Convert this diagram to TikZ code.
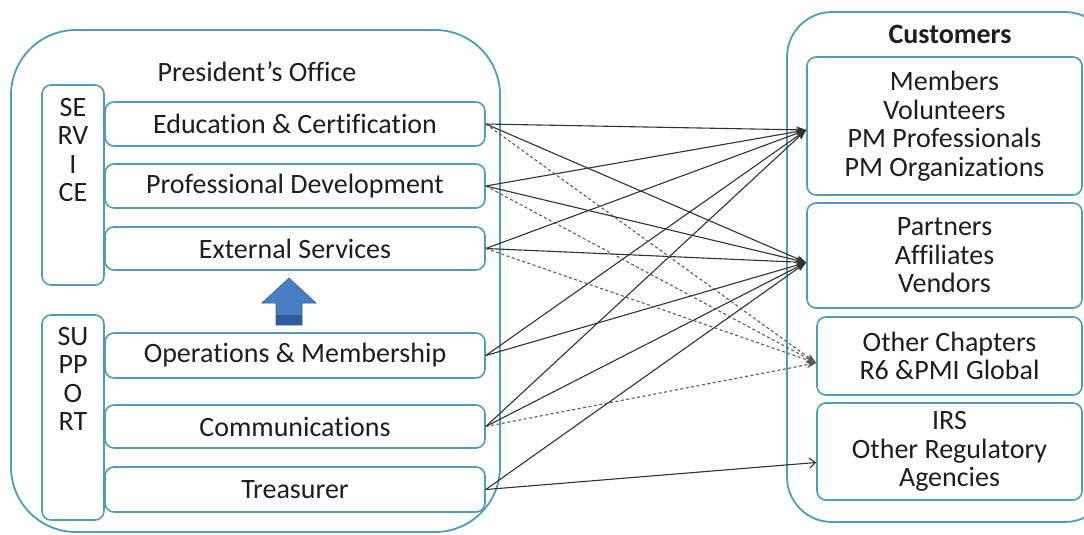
\documentclass[tikz,border=0pt]{standalone}
\usepackage{fontspec}
\setmainfont{Carlito}[Ligatures=NoCommon]
\usetikzlibrary{arrows.meta,calc}
\definecolor{bord}{RGB}{78,158,186}
\definecolor{txt}{RGB}{30,30,30}
\definecolor{lin}{RGB}{50,50,50}
\definecolor{arrblue}{RGB}{74,126,196}
\definecolor{arrdark}{RGB}{46,92,156}
\tikzset{
  big/.style={draw=bord, line width=1.8pt},
  inner/.style={draw=bord, line width=1.6pt, rounded corners=9pt, fill=white, text=txt,
    font=\fontsize{28}{28.5}\selectfont, inner sep=0pt, align=center},
  lbl/.style={text=txt, font=\fontsize{28}{28.5}\selectfont, align=center, inner sep=0pt},
  conn/.style={draw=lin, line width=1.1pt, -{Stealth[length=10pt,width=7pt]}},
  dconn/.style={draw=lin!80, line width=1.1pt, dash pattern=on 3pt off 2.5pt, -{Stealth[length=10pt,width=7pt]}},
  oconn/.style={draw=lin, line width=1.1pt, -{Straight Barb[length=6pt,width=10pt]}},
}
\begin{document}
\begin{tikzpicture}[x=1pt,y=-1pt]
\useasboundingbox (0,0) rectangle (1084,535);
\fill[white] (0,0) rectangle (1084,535);
% left panel
\draw[big, rounded corners=65pt] (11,30) rectangle (500,532);
\node[lbl] (pres) at (257,72) {President’s Office};
\node[inner, minimum width=62pt, minimum height=200pt] (serv) at (73,185) {};
\node[lbl, anchor=north] (servt) at (73,98) {SE\\RV\\I\\CE};
\node[inner, minimum width=62pt, minimum height=205pt] (supp) at (73,417.5) {};
\node[lbl, anchor=north] (suppt) at (73,327) {SU\\PP\\O\\RT};
\node[inner, minimum width=380pt, minimum height=44pt] (edu) at (295,124) {Education \& Certification};
\node[inner, minimum width=380pt, minimum height=44pt] (prof) at (295,186) {Professional Development};
\node[inner, minimum width=380pt, minimum height=43pt] (ext) at (295,248.5) {External Services};
\node[inner, minimum width=380pt, minimum height=45pt] (ops) at (295,355.5) {Operations \& Membership};
\node[inner, minimum width=380pt, minimum height=43pt] (comm) at (295,426.5) {Communications};
\node[inner, minimum width=380pt, minimum height=45pt] (tre) at (295,489.5) {Treasurer};
% blue arrow
\fill[arrblue, draw=arrdark, line width=0.6pt] (276,325) -- (276,303) -- (262,303) -- (289,278) -- (316,303) -- (302,303) -- (302,325) -- cycle;
\fill[arrdark] (276.3,315) rectangle (301.7,324.7);
% right panel
\draw[big, rounded corners=45pt] (787,12) rectangle (1110,522);
\node[lbl, font=\fontsize{28}{28}\selectfont\bfseries] (cust) at (950,34) {Customers};
\node[inner, minimum width=275pt, minimum height=138pt] (mem) at (944.5,126) {Members\\Volunteers\\PM Professionals\\PM Organizations};
\node[inner, minimum width=275pt, minimum height=105pt] (part) at (944.5,255.5) {Partners\\Affiliates\\Vendors};
\node[inner, minimum width=265pt, minimum height=78pt] (oth) at (949.5,356) {Other Chapters\\R6 \&PMI Global};
\node[inner, minimum width=265pt, minimum height=97pt] (irs) at (949.5,451.5) {IRS\\Other Regulatory\\Agencies};
% connectors
\coordinate (memin) at ([yshift=-4pt]mem.west);
\coordinate (partin) at ([yshift=-7pt]part.west);
\coordinate (othin) at ([yshift=-7pt]oth.west);
\coordinate (irsin) at ([yshift=-11pt]irs.west);
\foreach \s in {edu,prof,ext,ops,comm} {\draw[conn] (\s.east) -- (memin);}
\foreach \s in {edu,prof,ext,ops,comm,tre} {\draw[conn] (\s.east) -- (partin);}
\foreach \s in {edu,prof,ext,comm} {\draw[dconn] (\s.east) -- (othin);}
\draw[oconn] (tre.east) -- (irsin);
\end{tikzpicture}
\end{document}
